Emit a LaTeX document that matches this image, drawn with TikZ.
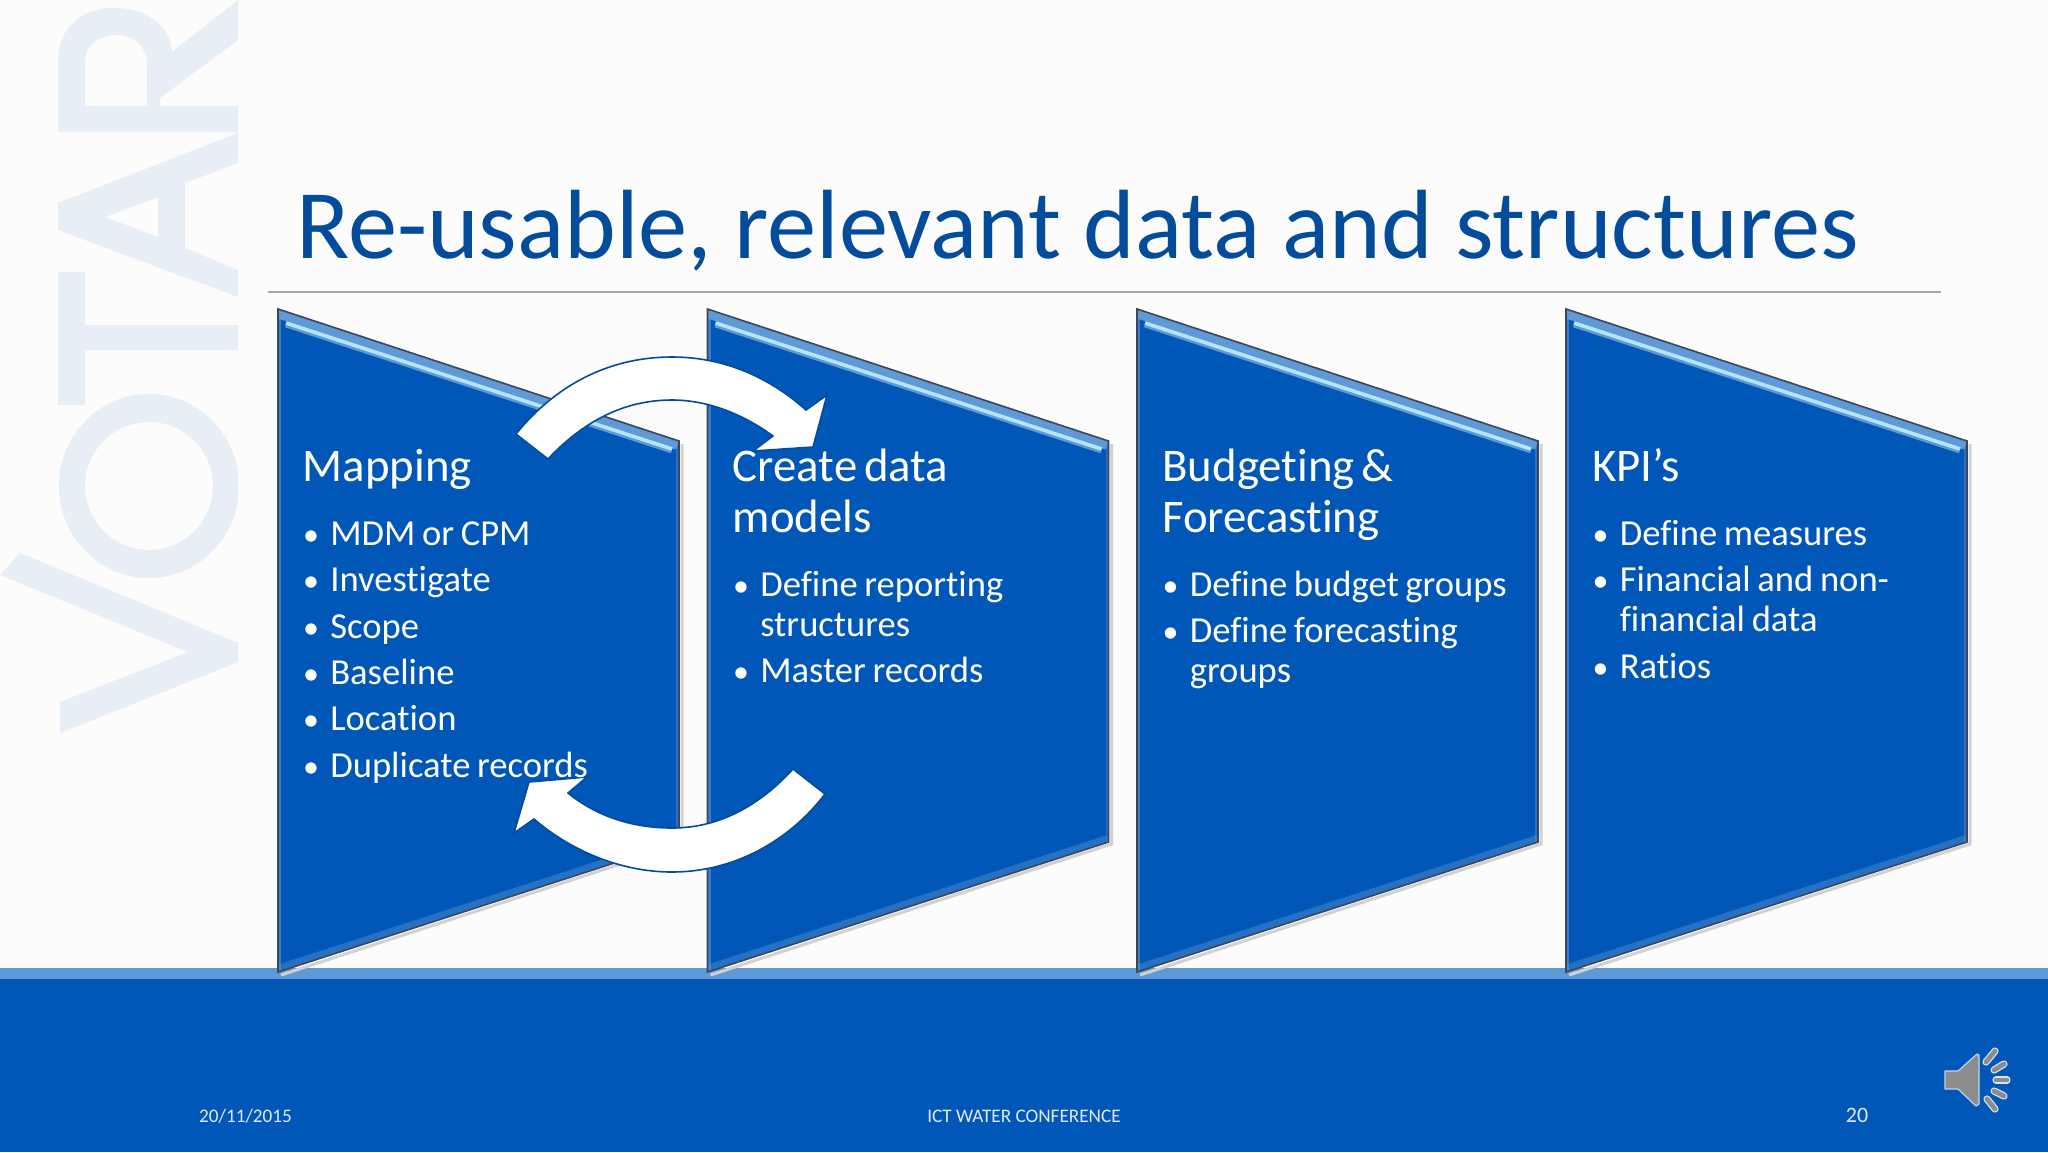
\documentclass[tikz,border=0pt]{standalone}
\usepackage{fontspec}
\setmainfont[Ligatures=NoCommon]{Carlito}
\usepackage{xcolor}
\definecolor{slideblue}{HTML}{0057B8}
\definecolor{bandblue}{HTML}{5F9AD6}
\definecolor{titleblue}{HTML}{034C9C}
\definecolor{markgrey}{HTML}{E8EEF5}
\definecolor{edgegrey}{HTML}{3C4658}
\newcommand{\panelhead}[1]{{\fontsize{23.4}{25.5}\selectfont\rule{0pt}{17.85pt}#1\par}}
\newenvironment{panelitems}{\fontsize{18.3}{20}\selectfont
  \begin{list}{{\fontsize{16}{20}\selectfont\textbullet}}{\setlength{\leftmargin}{13.7pt}\setlength{\labelsep}{5.6pt}%
  \setlength{\labelwidth}{8.1pt}\setlength{\topsep}{11.8pt}\setlength{\partopsep}{0pt}%
  \setlength{\parsep}{0pt}\setlength{\itemsep}{3.2pt}}}{\end{list}}
\tikzset{
  paneltext/.style={text=white,anchor=north west,inner sep=0pt,text width=186pt,align=left},
  panelfill/.style={fill=slideblue,draw=none},
  paneledge/.style={draw=edgegrey,line width=0.8pt,line join=miter},
  turnarrow/.style={fill=white,draw=titleblue,line width=0.8pt,line join=miter},
  markletter/.style={fill=markgrey,draw=none,even odd rule},
  foottext/.style={text=white!88!slideblue,inner sep=0pt,anchor=base,font=\fontsize{9.6}{11}\selectfont},
  soundbar/.style={draw=white!85!slideblue,double=black!45!white,double distance=2.4pt,line width=0.6pt,line cap=round}
}
\begin{document}
\begin{tikzpicture}[x=0.5pt,y=-0.5pt]
\useasboundingbox (0,0) rectangle (2048,1152);
\fill[white!99!black] (0,0) rectangle (2048,1152);
% watermark
\begin{scope}
\clip (0,0) rectangle (238,760);
\fill[markletter] (0,575) -- (20,553) -- (238,643) -- (238,662) -- (60,733) -- (60,702) -- (188,652) -- cycle; % V
\fill[markletter] (149,486) ellipse (90 and 92) (149,486) ellipse (64 and 64); % O
\fill[markletter] (58,272) -- (85,272) -- (85,325) -- (238,325) -- (238,350) -- (85,350) -- (85,405) -- (58,405) -- cycle; % T
\fill[markletter] (58,203) -- (238,133) -- (238,163) -- (185,183) -- (185,248) -- (238,270) -- (238,297) -- (58,230) -- cycle
  (105,217) -- (158,197) -- (158,237) -- cycle; % A
\fill[markletter] (238,106) -- (85,106) -- (85,60) .. controls (85,45) and (100,35) .. (116,35)
  .. controls (135,35) and (147,47) .. (147,65) -- (147,106) -- (238,106) -- (238,132) -- (58,132) -- (58,60)
  .. controls (58,30) and (80,8) .. (114,8) .. controls (150,8) and (172,30) .. (172,52) -- (238,0) -- (238,40) -- (160,98)
  -- (160,106) -- cycle; % R
\end{scope}
% footer
\fill[bandblue] (0,968) rectangle (2048,979);
\fill[slideblue] (0,979) rectangle (2048,1152);
% title
\node[text=titleblue,anchor=base west,inner sep=0pt,font=\fontsize{49.2}{60}\selectfont] (title) at (296,258.5) {Re-usable, relevant data and structures};
\draw[black!35,line width=0.8pt] (268,292) -- (1941,292);
% panels
\foreach \px in {278,707.5,1137,1566} {
  \draw[black!18,line width=1.5pt] (\px+404,444) -- (\px+404,844) -- (\px+3,975);
  \fill[panelfill] (\px,309) -- (\px+401,441) -- (\px+401,842) -- (\px,972) -- cycle;
  \begin{scope}
    \clip (\px,309) -- (\px+401,441) -- (\px+401,842) -- (\px,972) -- cycle;
    \draw[bandblue,line width=9pt] (\px,309) -- (\px+401,441);
    \draw[bandblue,line width=3.4pt] (\px+8,324) -- (\px+394,450);
    \draw[white!70!cyan,line width=1.8pt] (\px+8,323) -- (\px+394,449);
    \draw[bandblue,line width=3pt,opacity=.6] (\px,309) -- (\px,972);
    \draw[bandblue,line width=7pt,opacity=.4] (\px,972) -- (\px+401,842);
    \draw[bandblue,line width=3pt,opacity=.4] (\px+401,441) -- (\px+401,842);
  \end{scope}
  \draw[paneledge] (\px,309) -- (\px+401,441) -- (\px+401,842) -- (\px,972) -- cycle;
}
% turning arrows
\draw[turnarrow] (516,434) .. controls (560,380) and (615,357) .. (672,357) .. controls (725,357) and (770,378) .. (806,410)
  -- (827,395) -- (813,447) -- (753,451) -- (773,436) .. controls (740,412) and (705,400) .. (672,400)
  .. controls (620,400) and (580,425) .. (548,459) -- cycle;
\draw[turnarrow] (793,769) .. controls (760,805) and (720,828) .. (672,828) .. controls (630,828) and (595,815) .. (568,793)
  -- (587,777) -- (529,782) -- (514,833) -- (534,819) .. controls (570,850) and (620,872) .. (672,872)
  .. controls (735,872) and (790,840) .. (825,794) -- cycle;
% panel texts
\node[paneltext] (mapping) at (302.5,445.5) {\panelhead{Mapping}
  \begin{panelitems}\item MDM or CPM \item Investigate \item Scope \item Baseline \item Location \item Duplicate records\end{panelitems}};
\node[paneltext] (datamodels) at (732.5,445.5) {\panelhead{Create data\\models}
  \begin{panelitems}\item Define reporting\\structures \item Master records\end{panelitems}};
\node[paneltext] (budgeting) at (1162,445.5) {\panelhead{Budgeting \&\\Forecasting}
  \begin{panelitems}\item Define budget groups \item Define forecasting\\groups\end{panelitems}};
\node[paneltext] (kpis) at (1592,445.5) {\panelhead{KPI’s}
  \begin{panelitems}\item Define measures \item Financial and non-\\financial data \item Ratios\end{panelitems}};
% footer texts
\node[foottext] (date) at (245.5,1122) {20/11/2015};
\node[foottext] (conference) at (1024,1122) {ICT WATER CONFERENCE};
\node[foottext,font=\fontsize{11}{13}\selectfont] (pageno) at (1857,1122) {20};
% speaker
\fill[black!45!white,draw=white!75!slideblue,line width=0.6pt,line join=round] (1945,1071) -- (1958,1071) -- (1977,1054) -- (1979,1055) -- (1979,1104) -- (1976,1106) -- (1958,1089) -- (1945,1089) -- cycle;
\foreach \xa/\ya/\xb/\yb in {1986/1062/1995/1051,1994/1070/2004/1064,1996/1080/2007/1080,1994/1091/2004/1096,1987/1099/1995/1109}
  \draw[soundbar] (\xa,\ya) -- (\xb,\yb);
\end{tikzpicture}
\end{document}
